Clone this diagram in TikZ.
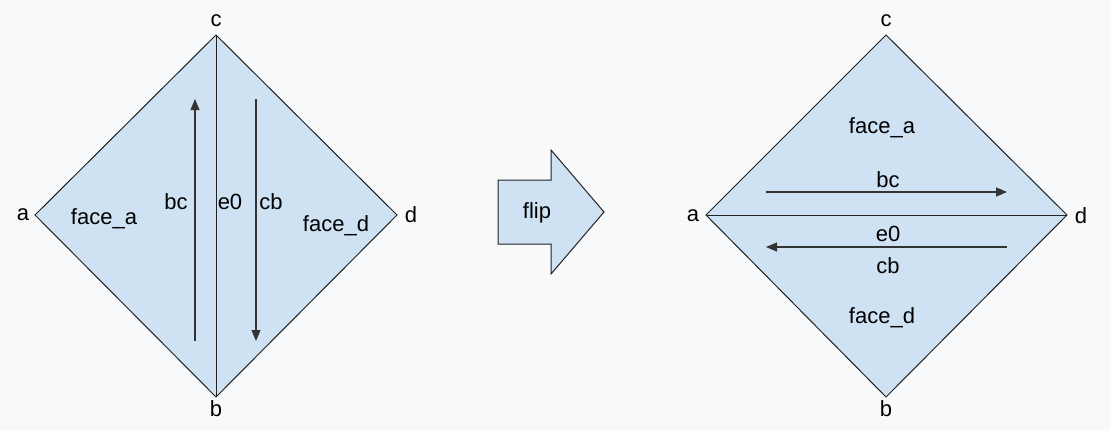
\documentclass[tikz,border=0pt]{standalone}
\usepackage{fontspec}
\setmainfont{Liberation Sans}
\usetikzlibrary{arrows.meta, positioning, shapes.arrows}
\definecolor{remplissage}{HTML}{CFE2F3}
\definecolor{trait}{HTML}{222222}
\definecolor{fond}{HTML}{F8F9FA}
\definecolor{fleche}{HTML}{333333}

\tikzset{
  etiquette/.style={font=\fontsize{22}{26}\selectfont, inner sep=1pt},
  bord/.style={draw=trait, line width=1pt, fill=remplissage, line join=miter},
  demi/.style={draw=fleche, line width=1.2pt, -{Triangle[length=11pt, width=9pt]}}
}

\begin{document}
\begin{tikzpicture}[x=1pt, y=-1pt]
    \fill[fond] (0,0) rectangle (1111,431);
    \useasboundingbox (0,0) rectangle (1111,431);
    % losange de gauche
    \coordinate (ga) at (35,215);
    \coordinate (gc) at (216,35);
    \coordinate (gd) at (397,215);
    \coordinate (gb) at (216,397);
    \draw[bord] (ga) -- (gc) -- (gd) -- (gb) -- cycle;
    \draw[trait, line width=1pt] (gc) -- (gb);
    \node[etiquette] (la) at (23,215) {a};
    \node[etiquette] (lc) at (216,21) {c};
    \node[etiquette] (ld) at (411,215) {d};
    \node[etiquette] (lb) at (216,409) {b};
    \coordinate (bc0) at (195,341);
    \coordinate (bc1) at (195,99);
    \coordinate (cb0) at (256,99);
    \coordinate (cb1) at (256,341);
    \draw[demi] (bc0) -- (bc1);
    \draw[demi] (cb0) -- (cb1);
    \node[etiquette] (tbc) at (176,202) {bc};
    \node[etiquette] (te0) at (230,202) {e0};
    \node[etiquette] (tcb) at (271,202) {cb};
    \node[etiquette] (fa) at (104,219) {face\_a};
    \node[etiquette] (fd) at (336,226) {face\_d};
    % fleche du milieu
    \draw[bord] (498,180) -- (551,180) -- (551,150) -- (604,212)
      -- (551,274) -- (551,244) -- (498,244) -- cycle;
    \node[etiquette] (flip) at (537,213) {flip};
    % losange de droite
    \coordinate (da) at (706,215);
    \coordinate (dc) at (886,35);
    \coordinate (dd) at (1067,215);
    \coordinate (db) at (886,397);
    \draw[bord] (da) -- (dc) -- (dd) -- (db) -- cycle;
    \draw[trait, line width=1pt] (da) -- (dd);
    \node[etiquette] (ra) at (693,216) {a};
    \node[etiquette] (rc) at (886,21) {c};
    \node[etiquette] (rd) at (1081,216) {d};
    \node[etiquette] (rb) at (886,409) {b};
    \coordinate (rbc0) at (766,192);
    \coordinate (rbc1) at (1007,192);
    \coordinate (rcb0) at (1007,247);
    \coordinate (rcb1) at (766,247);
    \draw[demi] (rbc0) -- (rbc1);
    \draw[demi] (rcb0) -- (rcb1);
    \node[etiquette] (rfa) at (882,128) {face\_a};
    \node[etiquette] (rtbc) at (888,180) {bc};
    \node[etiquette] (rte0) at (888,234) {e0};
    \node[etiquette] (rtcb) at (888,266) {cb};
    \node[etiquette] (rfd) at (882,318) {face\_d};
\end{tikzpicture}
\end{document}
